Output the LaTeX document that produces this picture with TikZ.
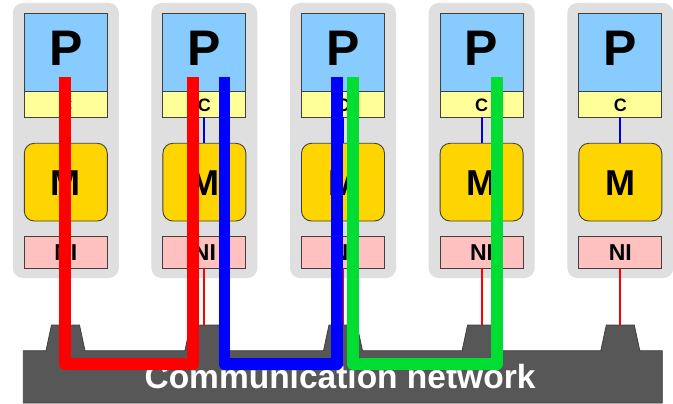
\documentclass[tikz,border=0pt]{standalone}
\usepackage{fontspec}
\setmainfont{Liberation Sans}
\definecolor{cellbg}{HTML}{DFDFDF}
\definecolor{pblue}{HTML}{88CCFF}
\definecolor{cyellow}{HTML}{FFFF99}
\definecolor{mgold}{HTML}{FFD500}
\definecolor{nipink}{HTML}{FFC0C0}
\definecolor{netgray}{HTML}{575757}
\definecolor{edge}{HTML}{404040}
\definecolor{pathgreen}{HTML}{00DD33}
\begin{document}
\begin{tikzpicture}[x=1pt,y=-1pt,
  cell/.style={fill=cellbg, rounded corners=10pt},
  unitbox/.style={draw=edge, line width=0.9pt, minimum width=83pt, inner sep=0pt, outer sep=0pt},
  pbox/.style={unitbox, fill=pblue, minimum height=78.4pt},
  cbox/.style={unitbox, fill=cyellow, minimum height=25.6pt},
  mbox/.style={unitbox, fill=mgold, minimum height=77.7pt, rounded corners=10pt},
  nibox/.style={unitbox, fill=nipink, minimum height=31.6pt},
  lbl/.style={font=\bfseries, anchor=base, inner sep=0pt},
  thinblue/.style={draw=blue!90!black, line width=2pt},
  thinred/.style={draw=red, line width=2pt},
  route/.style={line width=11.7pt, line join=round, line cap=butt}
]
\useasboundingbox (0,0) rectangle (673,404);
\fill[white] (0,0) rectangle (673,404);
% network
\draw[fill=netgray, draw=edge, line width=0.8pt]
  (23.3,403) -- (23.3,350.7)
  -- (46,350.7) -- (51.5,325) -- (79.5,325) -- (85,350.7)
  -- (184.9,350.7) -- (190.4,325) -- (218.4,325) -- (223.9,350.7)
  -- (323.5,350.7) -- (329,325) -- (357,325) -- (362.5,350.7)
  -- (462.1,350.7) -- (467.6,325) -- (495.6,325) -- (501.1,350.7)
  -- (600.8,350.7) -- (606.3,325) -- (634.3,325) -- (639.8,350.7)
  -- (662.3,350.7) -- (662.3,403) -- cycle;
\node[font=\bfseries\fontsize{33.5}{35}\selectfont, text=white, anchor=base, inner sep=0pt] (net) at (340,388.3) {Communication network};
\foreach \i/\cx in {1/65.8,2/204.4,3/343,4/481.6,5/620.3} {
  \fill[cell] (\cx-53,3) rectangle (\cx+53,278);
  \node[pbox] (P\i) at (\cx,52.5) {};
  \node[lbl, font=\bfseries\fontsize{50}{52}\selectfont] (Pt\i) at (\cx,65.7) {P};
  \node[cbox] (C\i) at (\cx,104.5) {};
  \node[lbl, font=\bfseries\fontsize{18}{20}\selectfont] (Ct\i) at (\cx,111.7) {C};
  \node[mbox] (M\i) at (\cx,182.15) {};
  \node[lbl, font=\bfseries\fontsize{36}{38}\selectfont] (Mt\i) at (\cx,195) {M};
  \node[nibox] (N\i) at (\cx,252.5) {};
  \node[lbl, font=\bfseries\fontsize{23}{25}\selectfont] (Nt\i) at (\cx,260.7) {NI};
  \coordinate (B\i) at (\cx,325);
  \draw[thinblue] (C\i.south) -- (M\i.north);
  \draw[thinred] (N\i.south) -- (B\i);
}
% routes
\coordinate (r1) at (65,76.7);   \coordinate (r2) at (193.2,76.7);
\coordinate (b1) at (224.5,76.7); \coordinate (b2) at (337,76.7);
\coordinate (g1) at (353,76.7);  \coordinate (g2) at (497,76.7);
\draw[route, red] (r1) -- (r1 |- 0,364) -- (r2 |- 0,364) -- (r2);
\draw[route, blue] (b1) -- (b1 |- 0,364) -- (b2 |- 0,364) -- (b2);
\draw[route, pathgreen] (g1) -- (g1 |- 0,364) -- (g2 |- 0,364) -- (g2);
\end{tikzpicture}
\end{document}
